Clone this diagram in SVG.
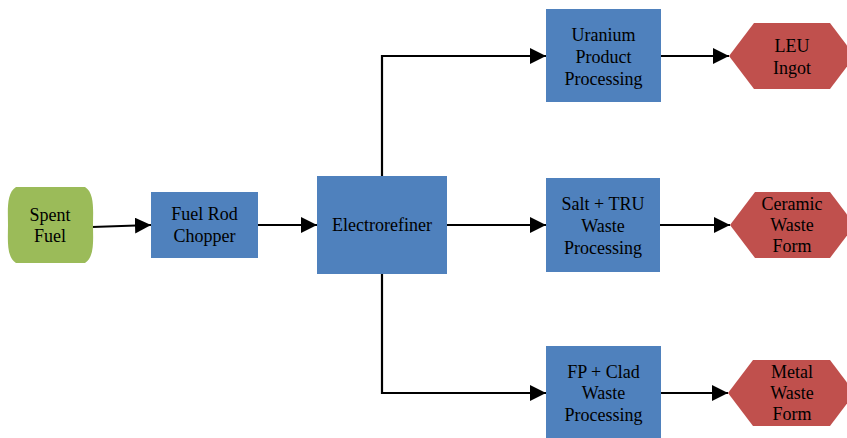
<svg xmlns="http://www.w3.org/2000/svg" width="847" height="438" viewBox="0 0 847 438">
<defs>
<style>
.box{fill:#4F81BD;}
.hex{fill:#C0504D;}
.start{fill:#9BBB59;}
text{font-family:"Liberation Serif","Times New Roman",serif;font-size:18px;fill:#000;text-anchor:middle;}
.conn{fill:none;stroke:#000;stroke-width:2.2;marker-end:url(#arr);}
</style>
<marker id="arr" markerUnits="userSpaceOnUse" markerWidth="16" markerHeight="16" refX="16" refY="8" orient="auto">
<path d="M0,0 L16,8 L0,16 z" fill="#000"/>
</marker>
</defs>
<rect width="847" height="438" fill="#fff"/>
<g id="connectors">
<path class="conn" d="M92,227 L151,225"/>
<path class="conn" d="M258,225 L317,225"/>
<path class="conn" d="M382,176 V56 H546"/>
<path class="conn" d="M447,225 H546"/>
<path class="conn" d="M382,274 V393 H546"/>
<path class="conn" d="M661,56 H729"/>
<path class="conn" d="M660,225 H730"/>
<path class="conn" d="M661,393 H728"/>
</g>
<g id="spent-fuel">
<path class="start" d="M16,187 H85 C95,193 93,212 93,225 C93,238 95,257 85,263 H16 C6,257 8,238 8,225 C8,212 6,193 16,187 Z"/>
<text x="50" y="221">Spent</text>
<text x="50" y="242">Fuel</text>
</g>
<g id="chopper">
<rect class="box" x="151" y="192" width="107" height="66"/>
<text x="204.5" y="220">Fuel Rod</text>
<text x="204.5" y="242">Chopper</text>
</g>
<g id="electrorefiner">
<rect class="box" x="317" y="176" width="130" height="98"/>
<text x="382" y="231">Electrorefiner</text>
</g>
<g id="uranium">
<rect class="box" x="546" y="9" width="115" height="93"/>
<text x="603.5" y="41">Uranium</text>
<text x="603.5" y="63">Product</text>
<text x="603.5" y="85">Processing</text>
</g>
<g id="salt">
<rect class="box" x="546" y="178" width="114" height="94"/>
<text x="603" y="210">Salt + TRU</text>
<text x="603" y="232">Waste</text>
<text x="603" y="254">Processing</text>
</g>
<g id="fp">
<rect class="box" x="546" y="346" width="115" height="92"/>
<text x="603.5" y="378">FP + Clad</text>
<text x="603.5" y="399">Waste</text>
<text x="603.5" y="421">Processing</text>
</g>
<g id="leu">
<polygon class="hex" points="729,56 754,23 830,23 855,56 830,89 754,89"/>
<text x="792" y="52">LEU</text>
<text x="792" y="74">Ingot</text>
</g>
<g id="ceramic">
<polygon class="hex" points="730,225 755,192 830,192 855,225 830,258 755,258"/>
<text x="792" y="210">Ceramic</text>
<text x="792" y="231">Waste</text>
<text x="792" y="252">Form</text>
</g>
<g id="metal">
<polygon class="hex" points="728,393 753,360 830,360 855,393 830,426 753,426"/>
<text x="792" y="378">Metal</text>
<text x="792" y="399">Waste</text>
<text x="792" y="420">Form</text>
</g>
</svg>
